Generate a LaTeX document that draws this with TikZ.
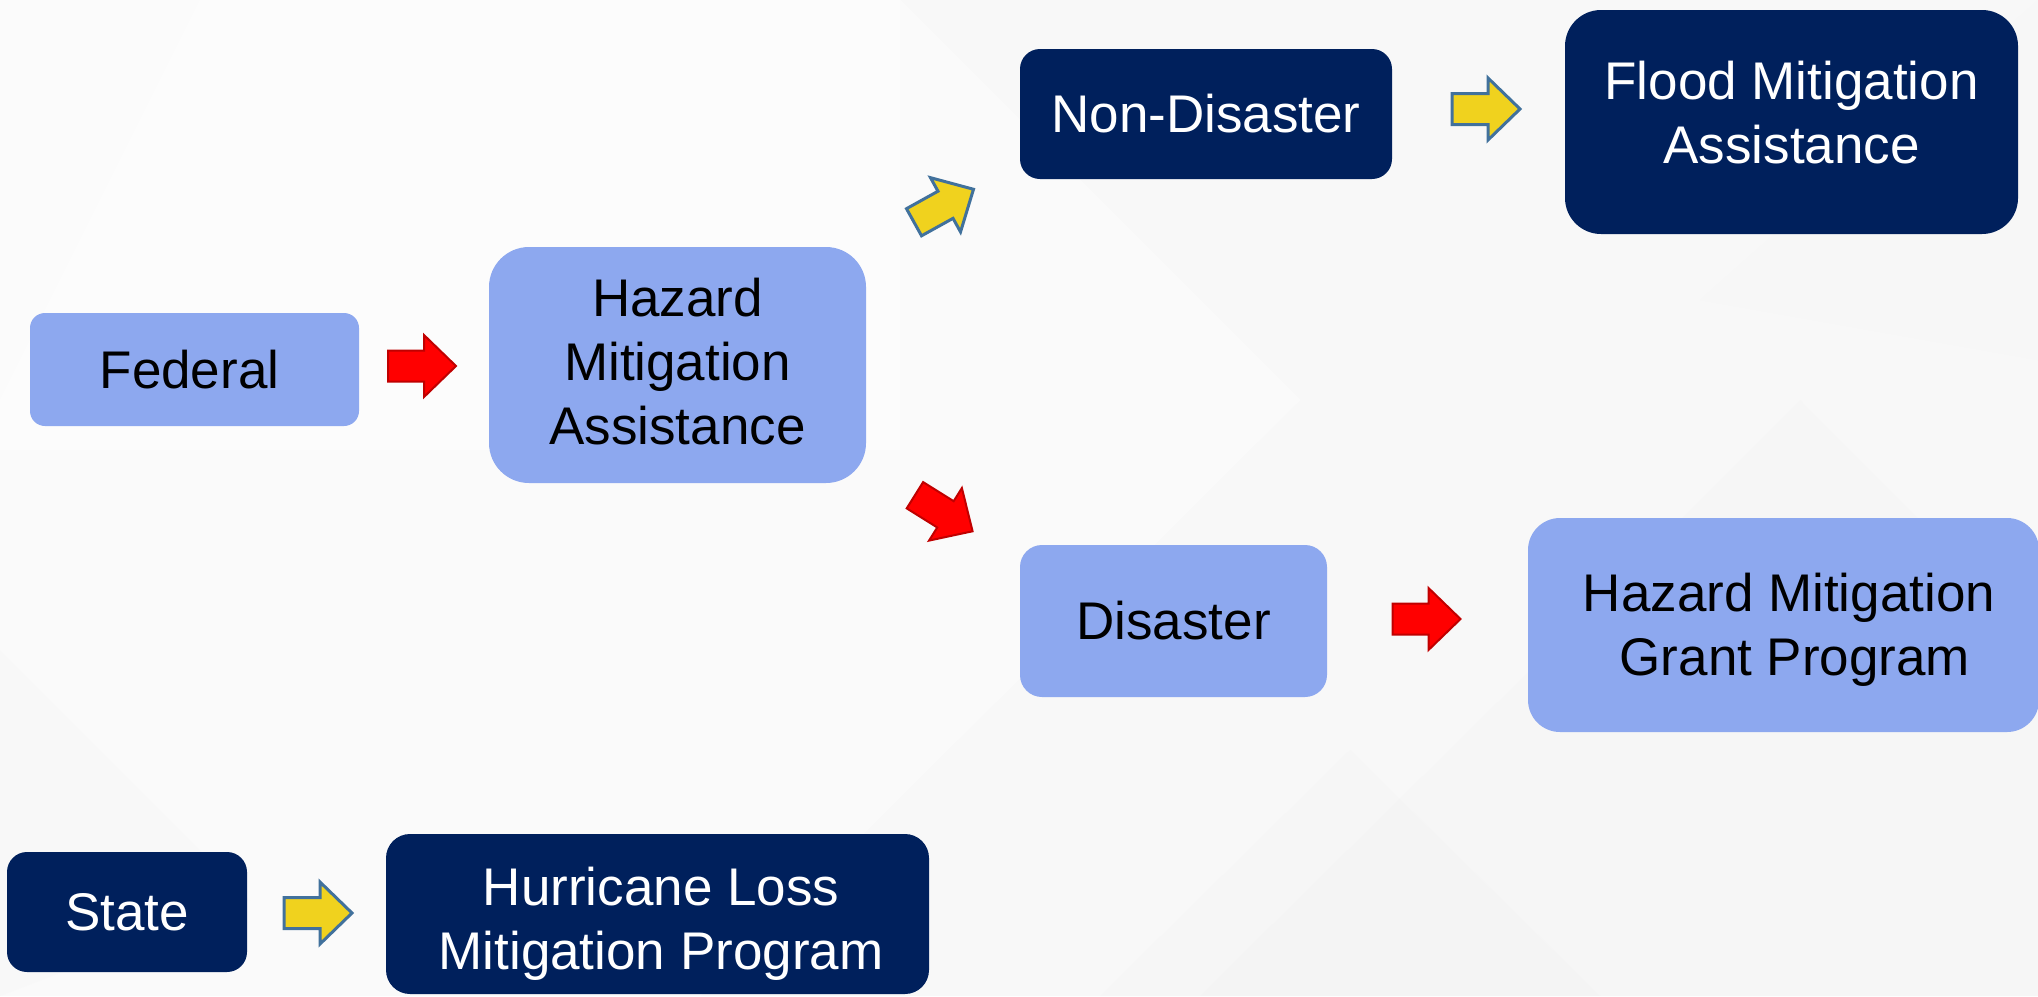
\documentclass[tikz,border=0pt]{standalone}
\usepackage{fontspec}
\setmainfont{Liberation Sans}
\definecolor{lightbox}{HTML}{8DA8EF}
\definecolor{darkbox}{HTML}{00205C}
\definecolor{redfill}{HTML}{FF0000}
\definecolor{redline}{HTML}{C00000}
\definecolor{yelfill}{HTML}{F0D21E}
\definecolor{yelline}{HTML}{41719C}
\definecolor{bgbase}{HTML}{F8F8F8}
\begin{document}
\begin{tikzpicture}[x=0.5pt,y=-0.5pt,
  txt/.style={align=center,inner sep=0pt,font=\fontsize{26.5pt}{32pt}\selectfont},
  base/.style={rectangle,txt},
  light/.style={base,fill=lightbox,text=black},
  dark/.style={base,fill=darkbox,text=white},
  blockarr/.pic={\path[pic actions] (-34,-15.5) -- (2,-15.5) -- (2,-31) -- (34,0) -- (2,31) -- (2,15.5) -- (-34,15.5) -- cycle;},
  redarr/.style={fill=redfill,draw=redline,line width=1pt,line join=miter},
  yelarr/.style={fill=yelfill,draw=yelline,line width=1.5pt,line join=miter}]
\useasboundingbox (0,0) rectangle (2038,996);
% background
\fill[bgbase] (0,0) rectangle (2038,996);
\begin{scope}
\clip (0,0) rectangle (2038,996);
\fill[white,opacity=0.45] (0,0) rectangle (900,450);
\fill[white,opacity=0.4] (200,0) -- (900,0) -- (1300,400) -- (700,996) -- (0,996) -- (0,400) -- cycle;
\fill[gray!10,opacity=0.3] (1500,700) -- (1800,400) -- (2038,640) -- (2038,996) -- (1200,996) -- cycle;
\fill[gray!10,opacity=0.3] (1100,996) -- (1350,750) -- (1600,996) -- cycle;
\fill[gray!8,opacity=0.3] (1700,300) -- (2038,0) -- (2038,360) -- cycle;
\fill[gray!8,opacity=0.3] (0,650) -- (250,900) -- (0,996) -- cycle;
\end{scope}
% boxes
\node[light,minimum width=164.5pt,minimum height=56.5pt,rounded corners=7.5pt] (fed) at (194.5,369.5) {Federal\hspace*{5pt}};
\node[light,minimum width=188.5pt,minimum height=118pt,rounded corners=20pt] (hma) at (677.5,365) {};
\node[txt,text=black] (hmat) at (677.5,362) {Hazard\\Mitigation\\Assistance};
\node[dark,minimum width=186pt,minimum height=65pt,rounded corners=10pt] (nd) at (1206,114) {Non-Disaster};
\node[dark,minimum width=226.5pt,minimum height=112pt,rounded corners=18pt] (fma) at (1791.5,122) {};
\node[txt,text=white] (fmat) at (1791.5,113) {Flood Mitigation\\Assistance};
\node[light,minimum width=153.5pt,minimum height=76pt,rounded corners=11pt] (dis) at (1173.5,621) {Disaster};
\node[light,minimum width=255.5pt,minimum height=107pt,rounded corners=16pt] (hmgp) at (1783.5,625) {};
\node[txt,text=black] (hmgpt) at (1789,630) {Hazard Mitigation\\\hphantom{i}Grant Program};
\node[dark,minimum width=120pt,minimum height=60pt,rounded corners=10pt] (state) at (127,912) {State};
\node[dark,minimum width=271.5pt,minimum height=80pt,rounded corners=12pt] (hlmp) at (657.5,914) {};
\node[txt,text=white] (hlmpt) at (661,924) {Hurricane Loss\\Mitigation Program};
% block arrows
\pic[redarr] (a1) at (422,366) {blockarr};
\pic[yelarr,rotate=29] (a2) at (943.75,205.75) {blockarr};
\pic[redarr,rotate=-32] (a3) at (943.75,513.25) {blockarr};
\pic[yelarr] (a4) at (1486,109) {blockarr};
\pic[redarr] (a5) at (1426.5,619) {blockarr};
\pic[yelarr] (a6) at (318,913) {blockarr};
\end{tikzpicture}
\end{document}
